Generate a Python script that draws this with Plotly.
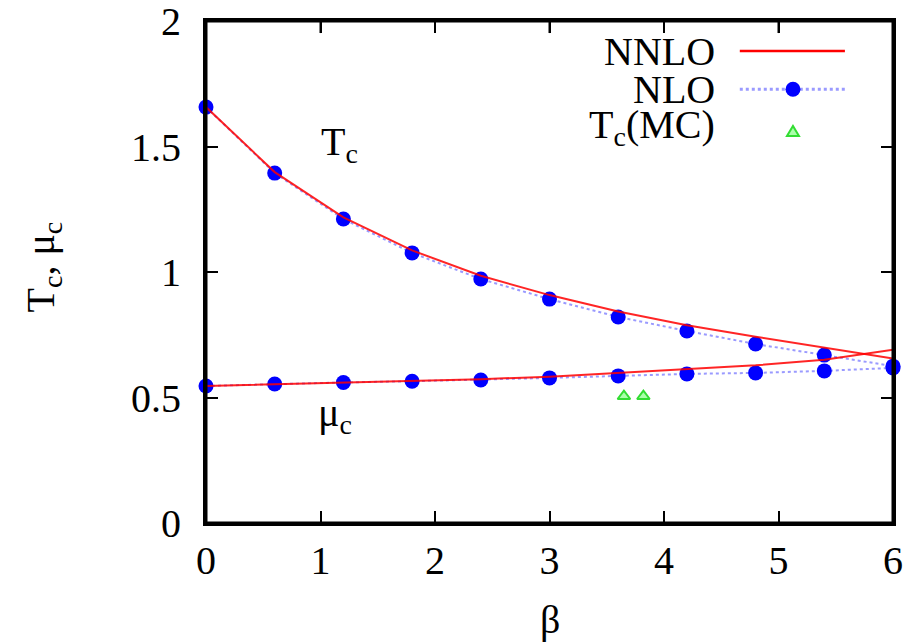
import plotly.graph_objects as go

beta = [0, 0.6, 1.2, 1.8, 2.4, 3.0, 3.6, 4.2, 4.8, 5.4, 6.0]
tc_nlo = [1.657, 1.394, 1.211, 1.076, 0.972, 0.892, 0.821, 0.765, 0.713, 0.669, 0.625]
tc_nnlo = [1.657, 1.398, 1.218, 1.086, 0.985, 0.908, 0.843, 0.788, 0.742, 0.698, 0.655]
mu_nlo = [0.546, 0.554, 0.560, 0.565, 0.570, 0.578, 0.586, 0.594, 0.598, 0.606, 0.618]
mu_nnlo = [0.546, 0.553, 0.560, 0.566, 0.573, 0.583, 0.597, 0.612, 0.628, 0.650, 0.690]
mc_beta = [3.65, 3.82]
mc_tc = [0.505, 0.505]

x_ticks = [0, 1, 2, 3, 4, 5, 6]
y_ticks = [0, 0.5, 1, 1.5, 2]
legend_labels = ["NNLO", "NLO", "T<sub>c</sub>(MC)"]

FONT = "Liberation Serif"
FS = 40
RED = "#ff0000"
BLUE = "#0000ff"
LBLUE = "rgba(120,120,255,0.75)"
GREEN = "#33dd33"

fig = go.Figure()

# NLO curves (dotted light blue with blue circles)
for ys in (tc_nlo, mu_nlo):
    fig.add_trace(go.Scatter(x=beta, y=ys, mode="lines+markers",
                             line=dict(color=LBLUE, width=2, dash="dot"),
                             marker=dict(color=BLUE, size=15, symbol="circle"),
                             cliponaxis=False, showlegend=False))
# NNLO curves (red solid)
for ys in (tc_nnlo, mu_nnlo):
    fig.add_trace(go.Scatter(x=beta, y=ys, mode="lines",
                             line=dict(color=RED, width=2),
                             opacity=0.85, cliponaxis=False, showlegend=False))
# MC points
fig.add_trace(go.Scatter(x=mc_beta, y=mc_tc, mode="markers",
                         marker=dict(symbol="triangle-up", size=11, color="#aaffaa",
                                     line=dict(color=GREEN, width=2)),
                         showlegend=False))

# Manual gnuplot-style legend: text on the left, sample on the right
LEG_Y = [0.940, 0.864, 0.789]
SAMPLE_X0, SAMPLE_X1, SAMPLE_XC = 0.777, 0.930, 0.8544
shapes = [
    dict(type="line", xref="paper", yref="paper", x0=SAMPLE_X0, x1=SAMPLE_X1,
         y0=LEG_Y[0], y1=LEG_Y[0], line=dict(color=RED, width=2.5)),
    dict(type="line", xref="paper", yref="paper", x0=SAMPLE_X0, x1=SAMPLE_X1,
         y0=LEG_Y[1], y1=LEG_Y[1], line=dict(color=LBLUE, width=3, dash="dot")),
    dict(type="circle", xref="paper", yref="paper", xsizemode="pixel", ysizemode="pixel",
         xanchor=SAMPLE_XC, yanchor=LEG_Y[1], x0=-7.5, x1=7.5, y0=-7.5, y1=7.5,
         fillcolor=BLUE, line=dict(color=BLUE, width=0)),
    dict(type="path", xref="paper", yref="paper", xsizemode="pixel", ysizemode="pixel",
         xanchor=SAMPLE_XC, yanchor=LEG_Y[2] - 0.01, path="M -6,-4 L 6,-4 L 0,6 Z",
         fillcolor="#aaffaa", line=dict(color=GREEN, width=2)),
    # plot frame
    dict(type="rect", xref="paper", yref="paper", x0=0, x1=1, y0=0, y1=1,
         line=dict(color="black", width=3), layer="above"),
]
# mirrored tick marks on the top edge
for t in x_ticks[1:-1]:
    shapes.append(dict(type="line", xref="x", yref="paper",
                       x0=t, x1=t, y0=1, y1=0.976, layer="above",
                       line=dict(color="black", width=2)))

annotations = []
for i, lab in enumerate(legend_labels):
    annotations.append(dict(x=0.744, y=LEG_Y[i], xref="paper", yref="paper", text=lab,
                            showarrow=False, xanchor="right", yanchor="middle",
                            font=dict(family=FONT, size=FS, color="black")))
annotations.append(dict(x=1.17, y=1.51, xref="x", yref="y", text="T<sub>c</sub>",
                        showarrow=False, font=dict(family=FONT, size=FS, color="black")))
annotations.append(dict(x=1.13, y=0.43, xref="x", yref="y", text="μ<sub>c</sub>",
                        showarrow=False, font=dict(family=FONT, size=FS, color="black")))
# axis titles
annotations.append(dict(x=-0.238, y=0.51, xref="paper", yref="paper",
                        text="T<sub>c</sub>, μ<sub>c</sub>", textangle=-90,
                        showarrow=False, xanchor="center", yanchor="middle",
                        font=dict(family=FONT, size=FS, color="black")))
annotations.append(dict(x=0.50, y=-0.193, xref="paper", yref="paper",
                        text="β", showarrow=False, xanchor="center", yanchor="middle",
                        font=dict(family=FONT, size=FS, color="black")))

axis_common = dict(showline=True, linecolor="black", linewidth=3, mirror="ticks",
                   ticks="inside", ticklen=12, tickwidth=2, tickcolor="black",
                   showgrid=False, zeroline=False, automargin=False,
                   ticklabeloverflow="allow",
                   tickfont=dict(family=FONT, size=FS, color="black"))

fig.update_layout(
    width=919, height=642,
    margin=dict(l=198, r=34, t=13, b=127, autoexpand=False),
    paper_bgcolor="white", plot_bgcolor="white",
    font=dict(family=FONT, size=FS, color="black"),
    xaxis=dict(range=[0, 6], tickvals=x_ticks, ticklabelstandoff=0, **axis_common),
    yaxis=dict(range=[0, 2], tickvals=y_ticks, ticklabelstandoff=14, **axis_common),
    shapes=shapes,
    annotations=annotations,
    showlegend=False,
)

fig.write_html("out.html")
